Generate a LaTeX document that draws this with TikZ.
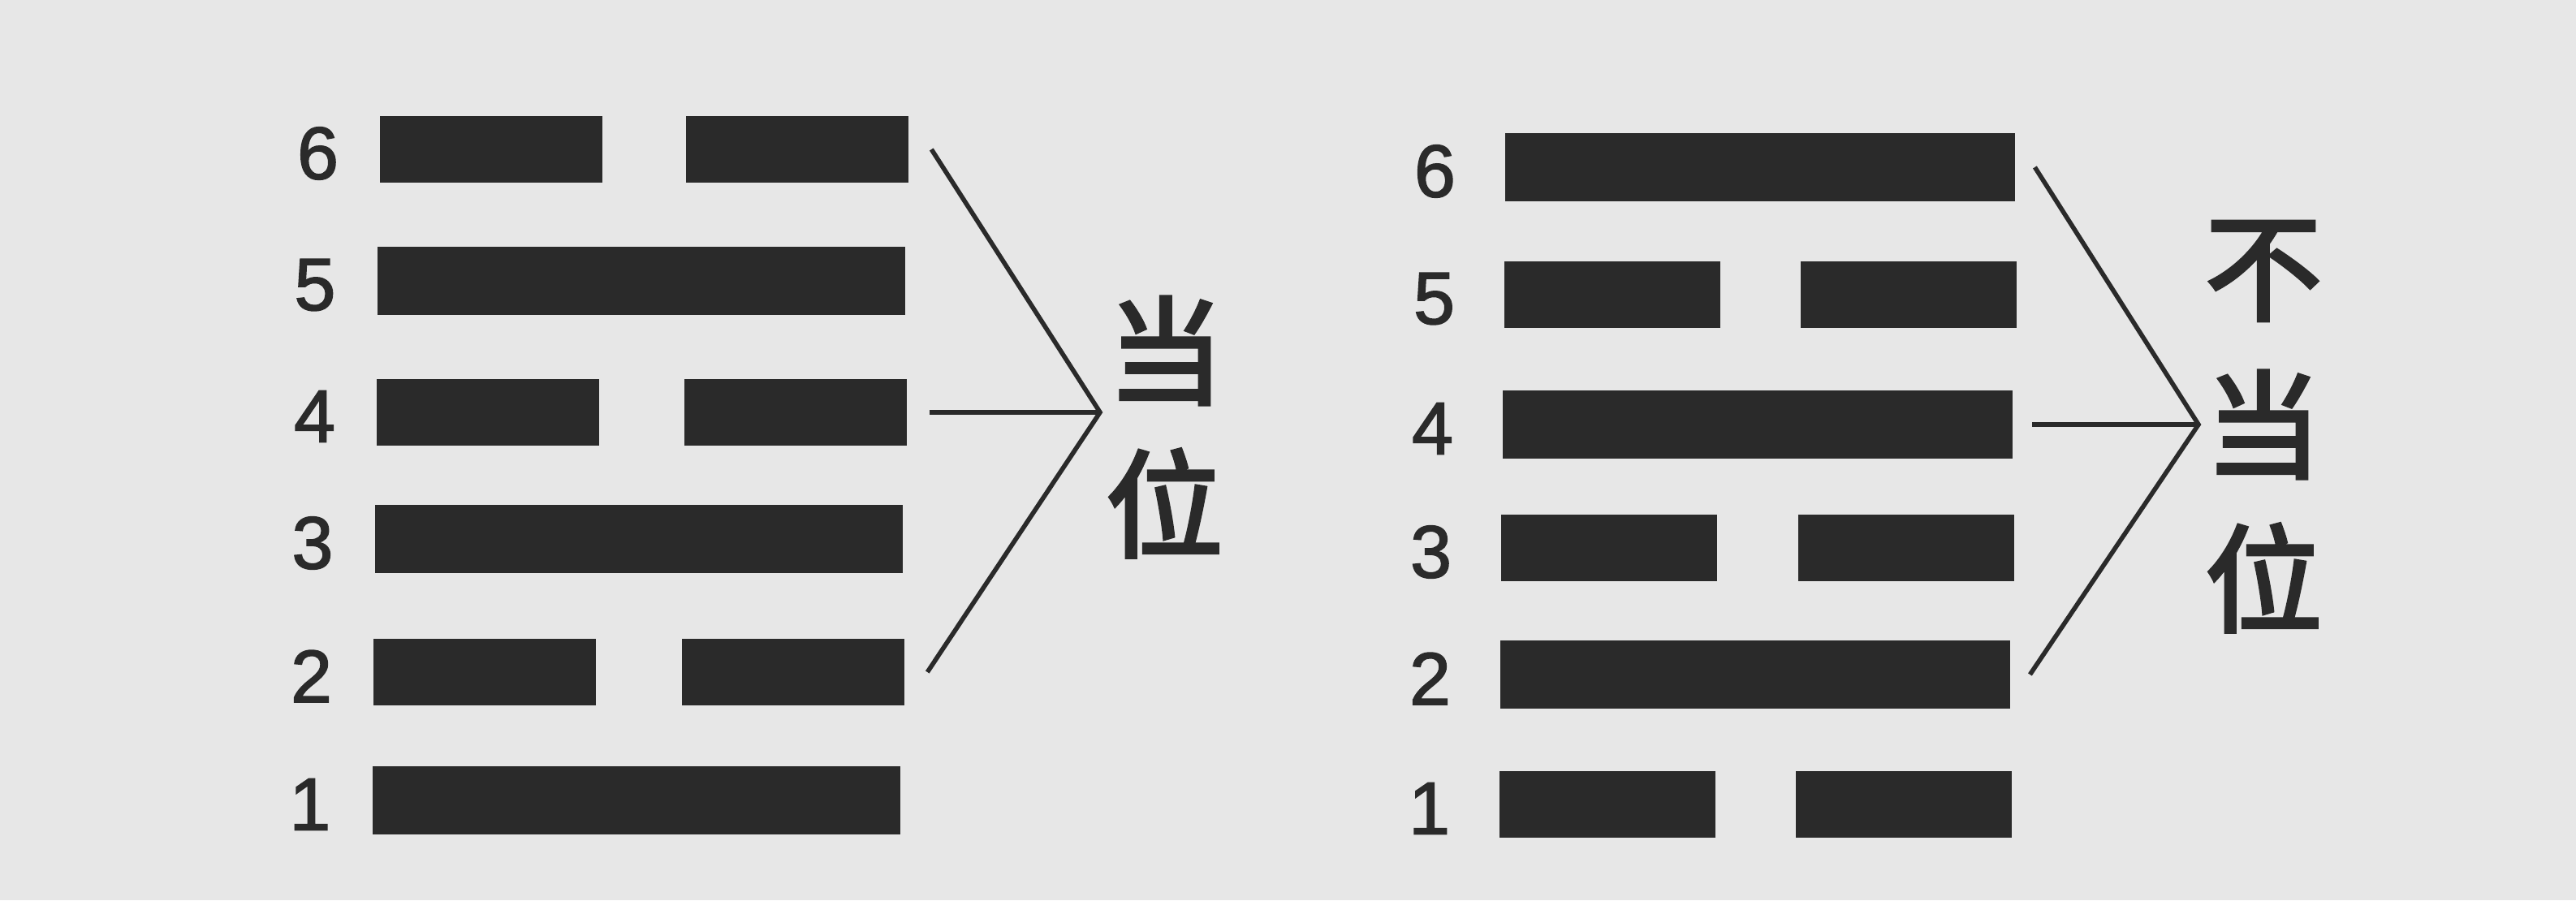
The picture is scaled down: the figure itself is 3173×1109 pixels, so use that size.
\documentclass[tikz,border=0pt]{standalone}
\usepackage{fontspec}
\setmainfont{Liberation Sans}
\newfontfamily\numfont[FakeBold=1.8]{Liberation Sans}
\newfontfamily\cjk[FakeBold=3]{Noto Sans CJK SC}
\usepackage{tikz}
\usetikzlibrary{positioning}

\definecolor{paper}{HTML}{E7E7E7}
\definecolor{ink}{HTML}{2A2A2A}

\tikzset{
  solidbar/.style={fill=ink, minimum width=6.5cm, minimum height=0.84cm, inner sep=0pt},
  halfbar/.style={fill=ink, minimum width=2.73cm, minimum height=0.82cm, inner sep=0pt},
  rsolidbar/.style={solidbar, minimum width=6.27cm},
  rhalfbar/.style={halfbar, minimum width=2.65cm},
  num/.style={inner sep=0pt, text=ink, yshift=-0.05cm, font=\numfont\fontsize{26}{28}\selectfont},
  hanzi/.style={inner sep=0pt, text=ink, font=\cjk\fontsize{41}{44}\selectfont},
  brace/.style={ink, line width=1.6pt}
}

\begin{document}
\begin{tikzpicture}[x=0.01cm,y=-0.01cm]

\fill[paper] (0,0) rectangle (3173,1109);

% left hexagram
\node[halfbar] (l6a) at (605,184) {};
\node[halfbar] (l6b) at (982,184) {};
\node[solidbar] (l5) at (790,346) {};
\node[halfbar] (l4a) at (601,508) {};
\node[halfbar] (l4b) at (980,508) {};
\node[solidbar] (l3) at (787,664) {};
\node[halfbar] (l2a) at (597,828) {};
\node[halfbar] (l2b) at (977,828) {};
\node[solidbar] (l1) at (784,986) {};

\node[num,left = 0.5cm of l6a] (ln6) {6};
\node[num,left = 0.5cm of l5] (ln5) {5};
\node[num,left = 0.5cm of l4a] (ln4) {4};
\node[num,left = 0.5cm of l3] (ln3) {3};
\node[num,left = 0.5cm of l2a] (ln2) {2};
\node[num,left = 0.5cm of l1] (ln1) {1};

\coordinate[right = 0.28cm of l6b] (lt);
\coordinate[right = 0.28cm of l4b] (lm);
\coordinate[right = 0.28cm of l2b] (lb);
\coordinate (lv) at (1355,508);

\draw[brace] (lt) -- (lv) -- (lb);
\draw[brace] (lm) -- (lv);

\node[hanzi] (ldang) at (1436,432) {当};
\node[hanzi] (lwei) at (1434,620) {位};

% right hexagram
\node[rsolidbar] (r6) at (2168,206) {};
\node[rhalfbar] (r5a) at (1986,363) {};
\node[rhalfbar] (r5b) at (2351,363) {};
\node[rsolidbar] (r4) at (2165,523) {};
\node[rhalfbar] (r3a) at (1982,675) {};
\node[rhalfbar] (r3b) at (2348,675) {};
\node[rsolidbar] (r2) at (2162,831) {};
\node[rhalfbar] (r1a) at (1980,991) {};
\node[rhalfbar] (r1b) at (2345,991) {};

\node[num,left = 0.6cm of r6] (rn6) {6};
\node[num,left = 0.6cm of r5a] (rn5) {5};
\node[num,left = 0.6cm of r4] (rn4) {4};
\node[num,left = 0.6cm of r3a] (rn3) {3};
\node[num,left = 0.6cm of r2] (rn2) {2};
\node[num,left = 0.6cm of r1a] (rn1) {1};

\coordinate[right = 0.24cm of r6] (rt);
\coordinate[right = 0.24cm of r4] (rm);
\coordinate[right = 0.24cm of r2] (rb);
\coordinate (rv) at (2708,523);

\draw[brace] (rt) -- (rv) -- (rb);
\draw[brace] (rm) -- (rv);

\node[hanzi] (rbu) at (2788,334) {不};
\node[hanzi] (rdang) at (2788,523) {当};
\node[hanzi] (rwei) at (2788,712) {位};
\end{tikzpicture}
\end{document}
